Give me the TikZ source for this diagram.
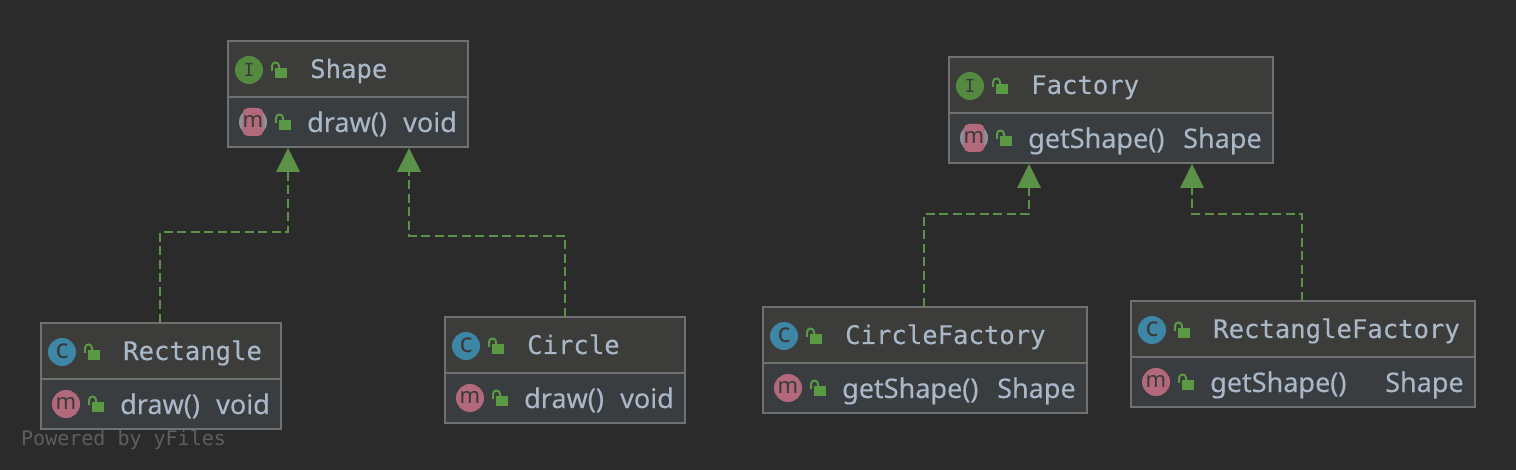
\documentclass[tikz,border=0pt]{standalone}
\usepackage{fontspec}
\usetikzlibrary{calc,arrows.meta}
\newfontfamily\titlefont[FakeBold=0.25]{DejaVu Sans Mono}
\newfontfamily\wmfont{DejaVu Sans Mono}
\newfontfamily\memberfont[FakeBold=0.25]{Noto Sans}
\newfontfamily\glyphfont{Noto Sans}
\newfontfamily\ifont{DejaVu Sans Mono}
\definecolor{bgc}{HTML}{2B2B2B}
\definecolor{headc}{HTML}{3C3C3B}
\definecolor{membc}{HTML}{3A3D40}
\definecolor{edgec}{HTML}{707070}
\definecolor{txtc}{HTML}{A9B7C6}
\definecolor{greenc}{HTML}{5B9149}
\definecolor{lockc}{HTML}{5A9A45}
\definecolor{ifacec}{HTML}{538A3F}
\definecolor{methc}{HTML}{B3697C}
\definecolor{clsc}{HTML}{3D86A5}
\definecolor{ringc}{HTML}{8A9299}
\definecolor{glyphc}{HTML}{3A3A3A}
\definecolor{wmc}{HTML}{5E5E5E}
\tikzset{
  headbox/.style={anchor=north west,inner sep=0pt,outer sep=0pt,fill=headc,draw=edgec,line width=2pt,minimum height=56pt},
  membbox/.style={anchor=north west,inner sep=0pt,outer sep=0pt,fill=membc,draw=edgec,line width=2pt,minimum height=50pt},
  titletext/.style={anchor=base west,inner sep=0pt,text=txtc,font=\titlefont\fontsize{25.6}{26}\selectfont},
  membtext/.style={anchor=base west,inner sep=0pt,text=txtc,font=\memberfont\fontsize{27}{27}\selectfont},
  iconbadge/.style={circle,inner sep=0pt,minimum size=28pt,text=glyphc,font=\glyphfont\fontsize{22}{22}\selectfont},
  cbadge/.style={iconbadge,font=\glyphfont\fontsize{27}{27}\selectfont},
  ibadge/.style={circle,inner sep=0pt,minimum size=28pt,text=glyphc,font=\ifont\fontsize{18}{18}\selectfont},
  mband/.style={rectangle,inner sep=0pt,minimum width=17pt,minimum height=28pt,rounded corners=5pt,fill=methc,text=glyphc,font=\glyphfont\fontsize{22}{22}\selectfont},
  dep/.style={draw=greenc,line width=2pt,dash pattern=on 9pt off 4.5pt},
  deptip/.style={fill=greenc,draw=none},
  watermark/.style={anchor=base west,inner sep=0pt,text=wmc,font=\wmfont\fontsize{20}{20}\selectfont}
}
% lock icon: #1,#2 = top-left
\newcommand{\lockicon}[2]{%
  \fill[lockc] (#1+4,#2+6) rectangle (#1+16,#2+16);
  \draw[lockc,line width=2pt] (#1+1,#2+9) -- (#1+1,#2+4) arc[start angle=180,end angle=0,x radius=3.5,y radius=-3.5] -- (#1+8,#2+7);
}
% #1 id, #2 left, #3 top, #4 width, #5 title, #6 method, #7 type, #8 type offset, #9 kind
\newcommand{\umlclass}[9]{%
  \node[membbox,minimum width=#4pt] (#1m) at (#2,#3+56) {};
  \node[headbox,minimum width=#4pt] (#1h) at (#2,#3) {};
  \ifnum#9=0
    \node[ibadge,fill=ifacec] (#1hi) at (#2+21,#3+29) {I};
    \fill[ringc] (#2+25,#3+81) circle[radius=14];
    \node[mband] (#1mi) at (#2+25,#3+81) {\raisebox{2pt}{m}};
  \else
    \node[cbadge,fill=clsc] (#1hi) at (#2+21,#3+29) {\raisebox{2pt}{c}};
    \node[iconbadge,fill=methc] (#1mi) at (#2+25,#3+81) {\raisebox{2pt}{m}};
  \fi
  \lockicon{#2+43}{#3+21}
  \node[titletext] (#1t) at (#2+82,#3+37) {#5};
  \lockicon{#2+47}{#3+73}
  \node[membtext] (#1n) at (#2+79,#3+91) {#6};
  \node[membtext] (#1r) at (#2+#8,#3+91) {#7};
}
\begin{document}
\begin{tikzpicture}[x=1pt,y=-1pt]
\useasboundingbox[fill=bgc] (0,0) rectangle (1516,470);
\umlclass{sh}{228}{41}{240}{Shape}{draw()}{void}{175}{0}
\umlclass{re}{41}{323}{240}{Rectangle}{draw()}{void}{175}{1}
\umlclass{ci}{445}{317}{240}{Circle}{draw()}{void}{175}{1}
\umlclass{fa}{949}{57}{324}{Factory}{getShape()}{Shape}{234}{0}
\umlclass{cf}{763}{307}{324}{CircleFactory}{getShape()}{Shape}{234}{1}
\umlclass{rf}{1131}{301}{344}{RectangleFactory}{getShape()}{Shape}{254}{1}
\node[watermark] (wm) at (21,445) {Powered by yFiles};
% connectors
\coordinate (t1) at ($(shm.south west)+(60,1)$);
\coordinate (t2) at ($(shm.south west)+(181,1)$);
\coordinate (t3) at ($(fam.south west)+(80,1)$);
\coordinate (t4) at ($(fam.south west)+(243,1)$);
\coordinate (s1) at ($(reh.north west)+(119,0)$);
\coordinate (s2) at ($(cih.north west)+(120,0)$);
\coordinate (s3) at ($(cfh.north west)+(161,0)$);
\coordinate (s4) at ($(rfh.north west)+(171,0)$);
\draw[dep] (s1) -- (s1 |- 0,232) -- (t1 |- 0,232) -- ($(t1)+(0,24)$);
\draw[dep] (s2) -- (s2 |- 0,236) -- (t2 |- 0,236) -- ($(t2)+(0,24)$);
\draw[dep] (s3) -- (s3 |- 0,214) -- (t3 |- 0,214) -- ($(t3)+(0,24)$);
\draw[dep] (s4) -- (s4 |- 0,214) -- (t4 |- 0,214) -- ($(t4)+(0,24)$);
\foreach \t in {t1,t2,t3,t4}
  \fill[deptip] (\t) -- ($(\t)+(-12,24)$) -- ($(\t)+(12,24)$) -- cycle;
\end{tikzpicture}
\end{document}
